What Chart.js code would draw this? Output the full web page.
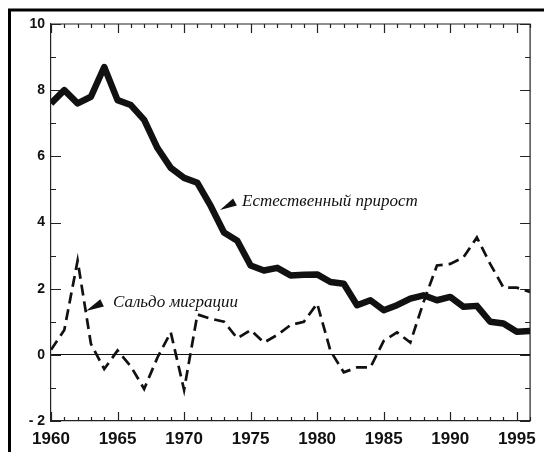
<!DOCTYPE html>
<html>
<head>
<meta charset="utf-8">
<script src="https://cdn.jsdelivr.net/npm/chart.js@4/dist/chart.umd.min.js"></script>
<style>
  body { margin: 0; background: #fff; }
  canvas { display: block; }
</style>
</head>
<body>
<canvas id="myChart" width="544" height="452"></canvas>
<script>
// years 1960..1996
var years = [1960, 1961, 1962, 1963, 1964, 1965, 1966, 1967, 1968, 1969,
             1970, 1971, 1972, 1973, 1974, 1975, 1976, 1977, 1978, 1979,
             1980, 1981, 1982, 1983, 1984, 1985, 1986, 1987, 1988, 1989,
             1990, 1991, 1992, 1993, 1994, 1995, 1996];

// natural increase (thick solid line)
var natural = [7.6, 8.0, 7.6, 7.8, 8.7, 7.7, 7.55, 7.1, 6.25, 5.65,
               5.35, 5.2, 4.5, 3.7, 3.45, 2.7, 2.55, 2.63, 2.4, 2.42,
               2.43, 2.2, 2.15, 1.5, 1.65, 1.35, 1.5, 1.7, 1.8, 1.65,
               1.75, 1.45, 1.48, 1.0, 0.95, 0.7, 0.72];

// net migration (dashed line)
var migration = [0.15, 0.75, 2.85, 0.33, -0.43, 0.13, -0.35, -1.03, -0.08, 0.68,
                 -1.06, 1.22, 1.09, 1.0, 0.5, 0.75, 0.37, 0.6, 0.9, 1.0,
                 1.55, 0.12, -0.53, -0.38, -0.38, 0.42, 0.68, 0.37, 1.6, 2.7,
                 2.75, 2.95, 3.55, 2.75, 2.03, 2.03, 1.9];

var xTicks = [1960, 1965, 1970, 1975, 1980, 1985, 1990, 1995];
var yTicks = [-2, 0, 2, 4, 6, 8, 10];

var labelNatural = 'Естественный прирост';
var labelMigration = 'Сальдо миграции';

function toPoints(arr) {
    return arr.map(function (v, i) { return { x: years[i], y: v }; });
}

function arrowHead(ctx, tx, ty, fx, fy, len, half) {
    var a = Math.atan2(ty - fy, tx - fx);
    var bx = tx - Math.cos(a) * len, by = ty - Math.sin(a) * len;
    ctx.beginPath();
    ctx.moveTo(tx, ty);
    ctx.lineTo(bx + Math.sin(a) * half, by - Math.cos(a) * half);
    ctx.lineTo(bx - Math.sin(a) * half, by + Math.cos(a) * half);
    ctx.closePath();
    ctx.fill();
}

var decor = {
    id: 'decor',
    beforeDatasetsDraw: function (chart) {
        var ctx = chart.ctx, a = chart.chartArea;
        var xs = chart.scales.x, ys = chart.scales.y;
        ctx.save();
        ctx.strokeStyle = '#222';
        ctx.lineWidth = 1.2;
        // top and right axis lines
        ctx.beginPath();
        ctx.moveTo(a.left, a.top); ctx.lineTo(a.right, a.top); ctx.lineTo(a.right, a.bottom);
        ctx.stroke();
        // inward ticks on x axes
        ctx.beginPath();
        for (var yr = 1960; yr <= 1996; yr++) {
            var px = Math.round(xs.getPixelForValue(yr)) + 0.5;
            var len = yr % 5 === 0 ? 9 : 4;
            ctx.moveTo(px, a.bottom); ctx.lineTo(px, a.bottom - len);
            ctx.moveTo(px, a.top); ctx.lineTo(px, a.top + len);
        }
        // inward ticks on y axes
        for (var v = -2; v <= 10; v++) {
            var py = Math.round(ys.getPixelForValue(v)) + 0.5;
            var l2 = v % 2 === 0 ? 10 : 5;
            ctx.moveTo(a.left, py); ctx.lineTo(a.left + l2, py);
            ctx.moveTo(a.right, py); ctx.lineTo(a.right - l2, py);
        }
        ctx.stroke();
        // outer frame (left and top)
        ctx.strokeStyle = '#000';
        ctx.lineWidth = 3;
        ctx.beginPath();
        ctx.moveTo(9.5, 452); ctx.lineTo(9.5, 10); ctx.lineTo(544, 10);
        ctx.stroke();
        ctx.restore();
    },
    afterDatasetsDraw: function (chart) {
        var ctx = chart.ctx;
        ctx.save();
        ctx.fillStyle = '#111';
        ctx.font = 'italic 17px "Liberation Serif", "DejaVu Serif", serif';
        ctx.textBaseline = 'alphabetic';
        ctx.fillText(labelNatural, 242, 206);
        ctx.fillText(labelMigration, 113, 307);
        arrowHead(ctx, 220, 210, 235, 202, 17, 4);
        arrowHead(ctx, 86, 311, 104, 302, 18, 4);
        ctx.restore();
    }
};

window.onload = function () {
    var ctx = document.getElementById('myChart').getContext('2d');

    var myChart = new Chart(ctx, {
        type: 'line',
        data: {
            datasets: [{
                label: labelNatural,
                data: toPoints(natural),
                borderColor: '#111',
                borderWidth: 6.5,
                borderJoinStyle: 'round',
                borderCapStyle: 'butt',
                pointRadius: 0,
                tension: 0
            },
            {
                label: labelMigration,
                data: toPoints(migration),
                borderColor: '#111',
                borderWidth: 2.7,
                borderDash: [11, 6],
                pointRadius: 0,
                tension: 0
            }]
        },
        options: {
            responsive: false,
            animation: false,
            layout: { padding: { top: 24, right: 11, left: 0, bottom: 0 } },
            plugins: {
                legend: { display: false },
                tooltip: { enabled: false }
            },
            scales: {
                x: {
                    type: 'linear',
                    min: 1960,
                    max: 1996,
                    afterBuildTicks: function (s) {
                        s.ticks = xTicks.map(function (v) { return { value: v }; });
                    },
                    afterFit: function (s) { s.height = 31; },
                    grid: { display: false, drawTicks: false },
                    border: { display: true, color: '#222', width: 1.2 },
                    ticks: {
                        autoSkip: false,
                        maxRotation: 0,
                        padding: 8,
                        color: '#111',
                        font: { family: '"Liberation Sans", Arial, sans-serif', size: 17, weight: 'bold' },
                        callback: function (v) { return String(v); }
                    }
                },
                y: {
                    min: -2,
                    max: 10,
                    afterBuildTicks: function (s) {
                        s.ticks = yTicks.map(function (v) { return { value: v }; });
                    },
                    afterFit: function (s) { s.width = 51; },
                    grid: {
                        drawTicks: false,
                        lineWidth: 1,
                        color: function (c) { return c.tick && c.tick.value === 0 ? '#111' : 'rgba(0,0,0,0)'; }
                    },
                    border: { display: true, color: '#222', width: 1.2 },
                    ticks: {
                        padding: 6,
                        color: '#111',
                        font: { family: '"Liberation Sans", Arial, sans-serif', size: 14, weight: 'bold' },
                        callback: function (v) { return v === -2 ? '- 2' : String(v); }
                    }
                }
            }
        },
        plugins: [decor]
    });
};
</script>
</body>
</html>
